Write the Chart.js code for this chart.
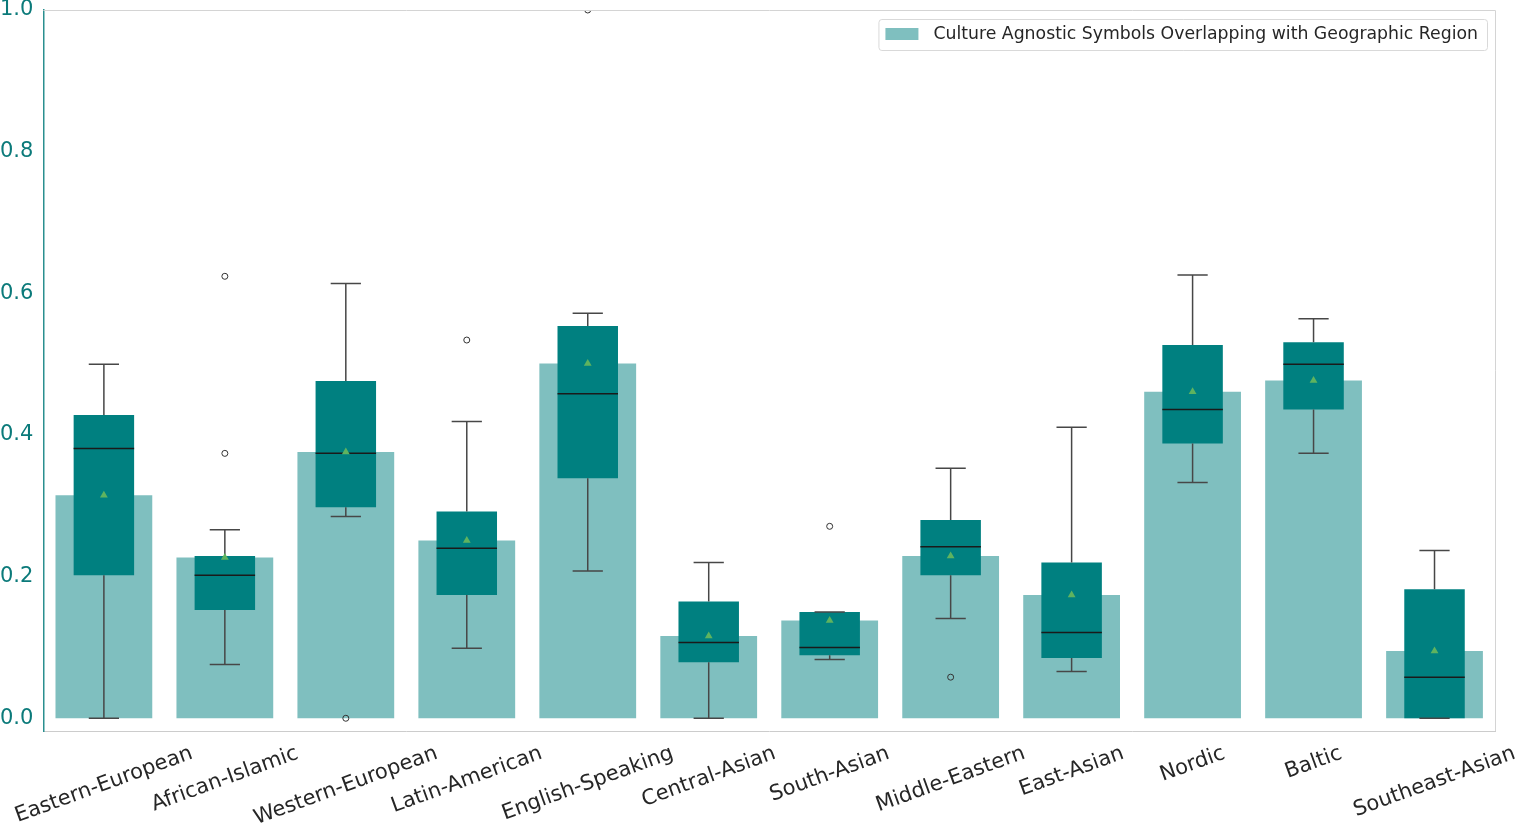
<!DOCTYPE html>
<html><head><meta charset="utf-8">
<script src="https://cdn.jsdelivr.net/npm/chart.js@4"></script>
<style>html,body{margin:0;padding:0;background:#fff;} #wrap{width:1523px;height:829px;position:relative;}</style>
</head><body><div id="wrap"><canvas id="c"></canvas></div>
<script>
const categories = ['Eastern-European','African-Islamic','Western-European','Latin-American','English-Speaking','Central-Asian','South-Asian','Middle-Eastern','East-Asian','Nordic','Baltic','Southeast-Asian'];
const meanValues   = [0.315,0.227,0.376,0.251,0.501,0.116,0.138,0.229,0.174,0.461,0.477,0.095];
const whiskerLow   = [0.000,0.076,0.285,0.099,0.208,0.000,0.083,0.141,0.066,0.333,0.374,0.000];
const q1Values     = [0.202,0.153,0.298,0.174,0.339,0.079,0.089,0.202,0.085,0.388,0.436,0.000];
const medianValues = [0.381,0.202,0.374,0.240,0.458,0.107,0.100,0.242,0.121,0.436,0.500,0.058];
const q3Values     = [0.428,0.229,0.476,0.292,0.554,0.165,0.150,0.280,0.220,0.527,0.531,0.182];
const whiskerHigh  = [0.500,0.266,0.614,0.419,0.572,0.220,0.150,0.353,0.411,0.626,0.564,0.237];
const outlierCategory = ['African-Islamic','African-Islamic','Western-European','Latin-American','English-Speaking','South-Asian','Middle-Eastern'];
const outlierValues   = [0.624,0.374,0.000,0.534,1.000,0.271,0.058];
const yTicks = [0.0,0.2,0.4,0.6,0.8,1.0];
const legendLabel = 'Culture Agnostic Symbols Overlapping with Geographic Region';

const FONT = "'DejaVu Sans', sans-serif";

const boxPlugin = {
  id: 'boxExtras',
  afterDatasetDraw(chart, args) {
    if (args.index !== 1) return;
    const ctx = chart.ctx, xs = chart.scales.x, ys = chart.scales.y;
    const step = xs.getPixelForValue(1) - xs.getPixelForValue(0);
    const capHalf = step * 0.125, boxHalf = step * 0.25;
    ctx.save();
    ctx.lineCap = 'butt';
    categories.forEach((c, i) => {
      const x = xs.getPixelForValue(i);
      const yLo = ys.getPixelForValue(whiskerLow[i]);
      const yQ1 = ys.getPixelForValue(q1Values[i]);
      const yQ3 = ys.getPixelForValue(q3Values[i]);
      const yHi = ys.getPixelForValue(whiskerHigh[i]);
      const yMed = ys.getPixelForValue(medianValues[i]);
      ctx.strokeStyle = '#474747';
      ctx.lineWidth = 1.5;
      ctx.beginPath();
      ctx.moveTo(x, yQ1); ctx.lineTo(x, yLo);
      ctx.moveTo(x, yQ3); ctx.lineTo(x, yHi);
      ctx.moveTo(x - capHalf, yLo); ctx.lineTo(x + capHalf, yLo);
      ctx.moveTo(x - capHalf, yHi); ctx.lineTo(x + capHalf, yHi);
      ctx.stroke();
      ctx.strokeStyle = '#1a1a1a';
      ctx.beginPath();
      ctx.moveTo(x - boxHalf, yMed); ctx.lineTo(x + boxHalf, yMed);
      ctx.stroke();
    });
    ctx.restore();
  },
  afterDraw(chart) {
    const ctx = chart.ctx, xs = chart.scales.x, a = chart.chartArea;
    ctx.save();
    ctx.strokeStyle = '#d4d4d4';
    ctx.lineWidth = 1;
    ctx.beginPath();
    ctx.moveTo(a.left, a.top + 0.5); ctx.lineTo(a.right + 0.5, a.top + 0.5);
    ctx.lineTo(a.right + 0.5, a.bottom);
    ctx.stroke();
    const theta = 20 * Math.PI / 180;
    const fs = 21;
    ctx.font = fs + 'px ' + FONT;
    ctx.fillStyle = '#262626';
    ctx.textAlign = 'center';
    ctx.textBaseline = 'middle';
    categories.forEach((c, i) => {
      const x = xs.getPixelForValue(i);
      const w = ctx.measureText(c).width;
      const H = w * Math.sin(theta) + fs * Math.cos(theta);
      const cy = a.bottom + 12 + H / 2;
      ctx.save();
      ctx.translate(x, cy);
      ctx.rotate(-theta);
      ctx.fillText(c, 0, 0);
      ctx.restore();
    });
    const lfs = 17.3;
    ctx.font = lfs + 'px ' + FONT;
    const tw = ctx.measureText(legendLabel).width;
    const lw = 7 + 33 + 15 + tw + 9, lh = 31;
    const lx = a.right - 8 - lw, ly = a.top + 9;
    ctx.fillStyle = 'rgba(255,255,255,0.85)';
    ctx.strokeStyle = '#d9d9d9';
    ctx.lineWidth = 1;
    ctx.beginPath();
    if (ctx.roundRect) ctx.roundRect(lx + 0.5, ly + 0.5, lw, lh, 3); else ctx.rect(lx + 0.5, ly + 0.5, lw, lh);
    ctx.fill(); ctx.stroke();
    ctx.fillStyle = 'rgba(0,128,128,0.5)';
    ctx.fillRect(lx + 7, ly + 9, 33, 12);
    ctx.fillStyle = '#262626';
    ctx.textAlign = 'left';
    ctx.textBaseline = 'middle';
    ctx.fillText(legendLabel, lx + 55, ly + 16);
    ctx.restore();
  }
};

new Chart(document.getElementById('c'), {
  data: {
    labels: categories,
    datasets: [
      {
        type: 'bar', label: legendLabel, data: meanValues,
        backgroundColor: 'rgba(0,128,128,0.5)', borderWidth: 0,
        barPercentage: 0.8, categoryPercentage: 1, grouped: false, order: 4
      },
      {
        type: 'bar', label: 'box', data: categories.map((c, i) => [q1Values[i], q3Values[i]]),
        backgroundColor: '#008080', borderWidth: 0,
        barPercentage: 0.5, categoryPercentage: 1, grouped: false, order: 3
      },
      {
        type: 'line', label: 'mean', data: meanValues, showLine: false,
        pointStyle: 'triangle', pointRadius: 4.5, pointBackgroundColor: '#5fb35f',
        pointBorderWidth: 0, borderColor: '#5fb35f', order: 2
      },
      {
        type: 'line', label: 'outliers',
        data: outlierCategory.map((c, i) => ({ x: c, y: outlierValues[i] })),
        showLine: false, pointStyle: 'circle', pointRadius: 3,
        pointBackgroundColor: 'rgba(255,255,255,0)', pointBorderColor: '#333333',
        pointBorderWidth: 1, borderColor: '#333333', order: 1
      }
    ]
  },
  options: {
    responsive: true, maintainAspectRatio: false, animation: false,
    layout: { padding: { left: -10, right: 28, top: 10, bottom: 98 } },
    plugins: { legend: { display: false }, tooltip: { enabled: false } },
    scales: {
      x: {
        type: 'category', offset: true,
        grid: { display: false, drawTicks: false },
        border: { display: true, color: '#cccccc', width: 1 },
        ticks: { display: false }
      },
      y: {
        min: -0.018, max: 1.0,
        afterBuildTicks: s => { s.ticks = yTicks.map(v => ({ value: v })); },
        afterFit: s => { s.paddingTop = 0; s.paddingBottom = 0; },
        grid: { display: false, drawTicks: false },
        border: { display: true, color: '#2a8f8f', width: 1.5 },
        ticks: {
          color: '#0b7a7a', padding: 10,
          font: { family: FONT, size: 21, lineHeight: 1 },
          callback: v => Number(v).toFixed(1)
        }
      }
    }
  },
  plugins: [boxPlugin]
});
</script></body></html>
